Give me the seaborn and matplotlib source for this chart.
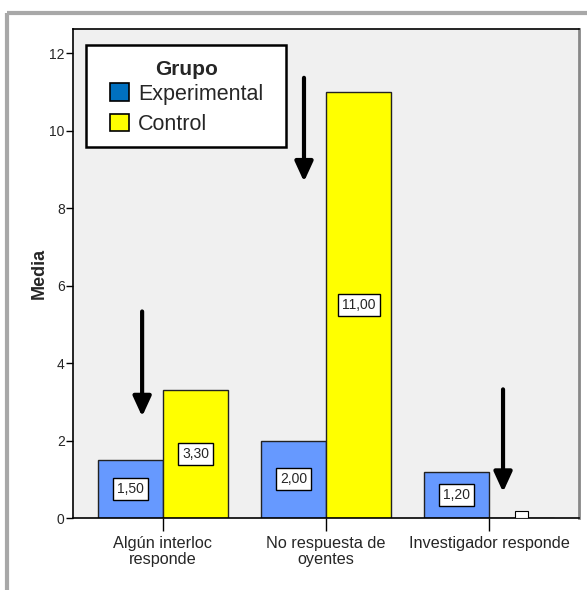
import matplotlib
matplotlib.use("Agg")
import matplotlib.pyplot as plt
import seaborn as sns
import pandas as pd
from matplotlib.patches import Patch, Rectangle
from matplotlib.lines import Line2D

categories = ["Algún interloc\nresponde", "No respuesta de\noyentes", "Investigador responde"]
groups = ["Experimental", "Control"]
experimental = [1.5, 2.0, 1.2]
control = [3.3, 11.0, 0.0]
value_labels_exp = ["1,50", "2,00", "1,20"]
value_labels_ctl = ["3,30", "11,00", ""]

sns.set_style("white")
plt.rcParams['font.family'] = ['Liberation Sans', 'DejaVu Sans']

df = pd.DataFrame({
    "cat": categories * 2,
    "Grupo": [groups[0]] * 3 + [groups[1]] * 3,
    "Media": experimental + control,
})

W, H = 587, 590
AX_L, AX_R, AX_T, AX_B = 73, 579, 29, 518
fig = plt.figure(figsize=(W / 100, H / 100), dpi=100)
ax = fig.add_axes([AX_L / W, 1 - AX_B / H, (AX_R - AX_L) / W, (AX_B - AX_T) / H])
ax.set_facecolor("#F0F0F0")

def ax_xy(px, py):
    return ((px - AX_L) / (AX_R - AX_L), (AX_B - py) / (AX_B - AX_T))

bar_colors = ["#6699FF", "#FFFF00"]
sns.barplot(data=df, x="cat", y="Media", hue="Grupo", hue_order=groups,
            palette=bar_colors, ax=ax, edgecolor="#222222", linewidth=1.0,
            saturation=1, width=0.8, legend=False)

ax.set_xlim(-0.552, 2.552)
ax.set_ylim(0, 12.62)
ax.set_yticks([0, 2, 4, 6, 8, 10, 12])
ax.set_yticklabels(["0", "2", "4", "6", "8", "10", "12"], fontsize=10)
ax.set_xticks([0, 1, 2])
ax.set_xticklabels(categories, fontsize=11.7, linespacing=1.05)
ax.tick_params(axis="y", direction="out", length=5, width=1, color="black", pad=1, left=True)
ax.tick_params(axis="x", direction="out", length=9, width=1, color="black", pad=4, bottom=True)
ax.set_xlabel("")
ax.set_ylabel("Media", fontsize=13, fontweight="bold", labelpad=1)

for s in ["left", "bottom", "top"]:
    ax.spines[s].set_color("black")
    ax.spines[s].set_linewidth(1.2)
ax.spines["right"].set_color("#888888")
ax.spines["right"].set_linewidth(2)

# value labels
bbox = dict(boxstyle="square,pad=0.3", facecolor="white", edgecolor="black", linewidth=1)
for i, (v, lab) in enumerate(zip(experimental, value_labels_exp)):
    ax.text(i - 0.2, v / 2, lab, ha="center", va="center", fontsize=10, bbox=bbox)
for i, (v, lab) in enumerate(zip(control, value_labels_ctl)):
    if lab:
        ax.text(i + 0.2, v / 2, lab, ha="center", va="center", fontsize=10, bbox=bbox)
# clipped label box for zero-height bar
ax.add_patch(Rectangle((2.2 - 0.04, 0), 0.08, 0.19, facecolor="white",
                       edgecolor="black", linewidth=0.8, zorder=5))

# arrows
arrow_x = [-0.128, 0.865, 2.086]
arrow_top = [5.33, 11.36, 3.32]
arrow_tip = [2.62, 8.68, 0.67]
for x, yt, yb in zip(arrow_x, arrow_top, arrow_tip):
    ax.annotate("", xy=(x, yb), xytext=(x, yt),
                arrowprops=dict(arrowstyle="-|>,head_width=0.55,head_length=1.2",
                                color="black", lw=3.0, shrinkA=0, shrinkB=0))

# legend (frame drawn separately to reproduce the wide box)
x0, y0 = ax_xy(86, 45)
x1, y1 = ax_xy(286, 147)
ax.add_patch(Rectangle((x0, y1), x1 - x0, y0 - y1, transform=ax.transAxes,
                       facecolor="white", edgecolor="black", linewidth=1.8, zorder=4.5))
handles = [Patch(facecolor="#0070C0", edgecolor="black", linewidth=1.2, label="Experimental"),
           Patch(facecolor="#FFFF00", edgecolor="black", linewidth=1.2, label="Control")]
leg = ax.legend(handles=handles, title="Grupo", loc="upper left",
                bbox_to_anchor=ax_xy(110, 60), fontsize=15.5,
                title_fontproperties={"weight": "bold", "size": 15},
                frameon=False,
                handlelength=0.9, handleheight=0.9, handletextpad=0.4,
                borderpad=0, labelspacing=0.42, borderaxespad=0)
leg.set_zorder(5)
leg._legend_box.align = "center"
leg._legend_box.sep = 3

# outer gray frame
fig.add_artist(Line2D([7 / W, 7 / W], [0, 1 - 13 / H], transform=fig.transFigure,
                      color="#A8A8A8", linewidth=3, solid_capstyle="butt"))
fig.add_artist(Line2D([7 / W, 1], [1 - 13 / H, 1 - 13 / H], transform=fig.transFigure,
                      color="#A8A8A8", linewidth=3, solid_capstyle="butt"))

fig.savefig("out.png", dpi=100, facecolor="white")
